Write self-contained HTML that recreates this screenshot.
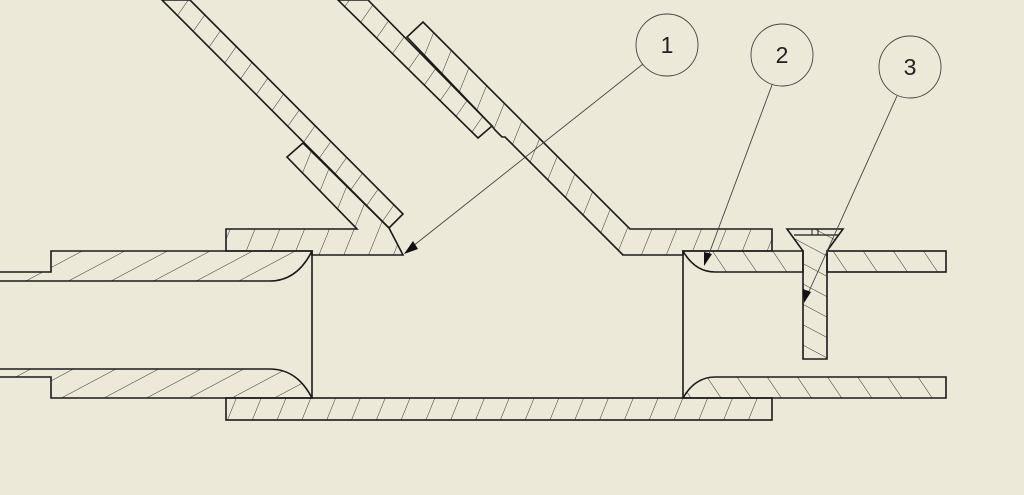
<!DOCTYPE html>
<html><head><meta charset="utf-8"><style>
html,body{margin:0;padding:0;background:#ECE9D8;}
svg{display:block;}
text{font-family:"Liberation Sans",sans-serif;font-size:23px;fill:#222;}
</style></head><body>
<svg width="1024" height="495" viewBox="0 0 1024 495" xmlns="http://www.w3.org/2000/svg">
<defs>
<pattern id="hb" width="23" height="40" patternUnits="userSpaceOnUse" patternTransform="rotate(22)">
<line x1="0" y1="0" x2="0" y2="40" stroke="#333" stroke-width="1"/></pattern>
<pattern id="hi" width="20" height="60" patternUnits="userSpaceOnUse" patternTransform="rotate(62)">
<line x1="0" y1="0" x2="0" y2="60" stroke="#333" stroke-width="1"/></pattern>
<pattern id="hr" width="25" height="60" patternUnits="userSpaceOnUse" patternTransform="rotate(-34)">
<line x1="0" y1="0" x2="0" y2="60" stroke="#333" stroke-width="1"/></pattern>
<pattern id="ht" width="22" height="40" patternUnits="userSpaceOnUse" patternTransform="rotate(35)">
<line x1="0" y1="0" x2="0" y2="40" stroke="#333" stroke-width="1"/></pattern>
<pattern id="hs" width="18" height="40" patternUnits="userSpaceOnUse" patternTransform="rotate(-62)">
<line x1="0" y1="0" x2="0" y2="40" stroke="#333" stroke-width="1"/></pattern>
</defs>
<g stroke="#1a1a1a" stroke-width="1.6" stroke-linejoin="miter">
<!-- tubes -->
<polygon points="162,0 190,0 403,214 389,228" fill="url(#ht)"/>
<polygon points="338,0 368,0 492,126 478,138" fill="url(#ht)"/>
<!-- body left -->
<polygon points="226,229 357,229 287,157 303,143 389,228 403,255 312,255 312,251 226,251" fill="url(#hb)"/>
<!-- body right -->
<polygon points="623,255 505,137 502,137 495,130 492,126 407,37 423,22 630,229 772,229 772,251 683,251 683,255" fill="url(#hb)"/>
<!-- body bottom -->
<rect x="226" y="398" width="546" height="22" fill="url(#hb)"/>
<!-- left insert -->
<path d="M0,272 L51,272 L51,251 L312,251 Q297,281 270,281 L0,281" fill="url(#hi)"/>
<path d="M0,369 L270,369 Q297,369 312,398 L51,398 L51,377 L0,377" fill="url(#hi)"/>
<line x1="312" y1="251" x2="312" y2="398"/>
<!-- right insert -->
<path d="M683,251 L803,251 L803,272 L715,272 Q695,272 683,251 Z" fill="url(#hr)"/>
<rect x="827" y="251" width="119" height="21" fill="url(#hr)"/>
<path d="M683,398 Q695,377 715,377 L946,377 L946,398 Z" fill="url(#hr)"/>
<line x1="683" y1="251" x2="683" y2="398"/>
<!-- screw -->
<polygon points="787,229 843,229 827,251 827,359 803,359 803,251" fill="url(#hs)"/>
<line x1="794" y1="235" x2="838" y2="235" stroke-width="1.2"/>
<line x1="812" y1="229" x2="812" y2="235" stroke-width="1"/>
<line x1="818" y1="229" x2="818" y2="235" stroke-width="1"/>
</g>
<!-- balloons and leaders -->
<g stroke="#444" stroke-width="0.9" fill="none">
<circle cx="667" cy="45" r="31"/>
<circle cx="782" cy="55" r="31"/>
<circle cx="910" cy="67" r="31"/>
<line x1="643" y1="64" x2="408" y2="250"/>
<line x1="772" y1="85" x2="706" y2="262"/>
<line x1="897" y1="96" x2="806" y2="298"/>
</g>
<g fill="#111">
<polygon points="404,254 413,241 418,249"/>
<polygon points="704,266 704,252 712,254"/>
<polygon points="804,303 803,289 811,292"/>
</g>
<text x="667" y="53" text-anchor="middle">1</text>
<text x="782" y="63" text-anchor="middle">2</text>
<text x="910" y="75" text-anchor="middle">3</text>
</svg>
</body></html>
